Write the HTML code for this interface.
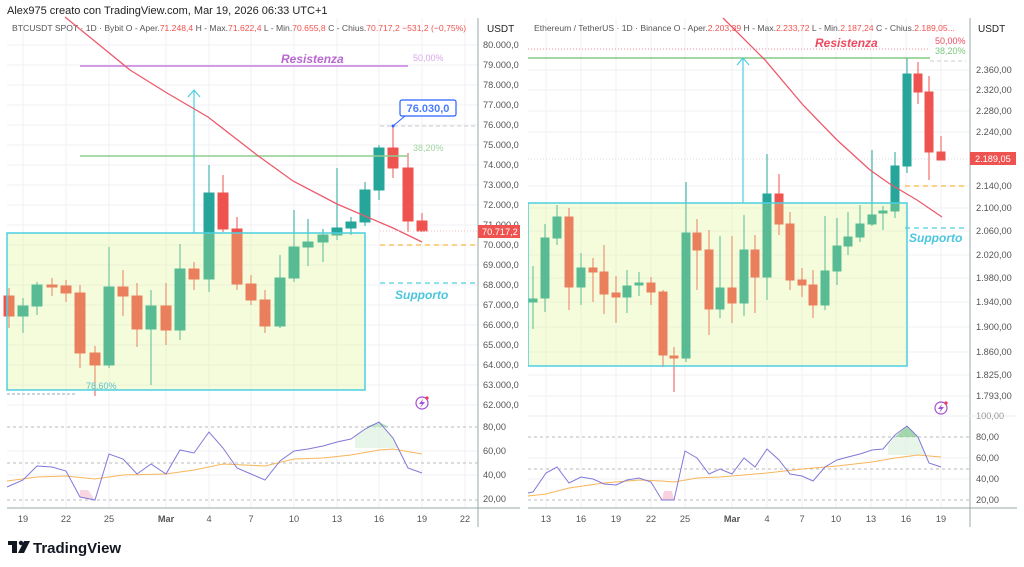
<!DOCTYPE html>
<html><head><meta charset="utf-8"><style>
html,body{margin:0;padding:0;background:#fff;}
svg{display:block;font-family:"Liberation Sans",sans-serif;}
</style></head><body>
<svg width="1024" height="567" viewBox="0 0 1024 567" xmlns="http://www.w3.org/2000/svg">
<rect width="1024" height="567" fill="#fff"/>
<text x="7" y="14" font-size="11" fill="#222">Alex975 creato con TradingView.com, Mar 19, 2026 06:33 UTC+1</text>

<!-- ================= LEFT CHART ================= -->
<g stroke="#f0f2f6" stroke-width="1">
<line x1="7" y1="45" x2="478" y2="45"/><line x1="7" y1="65" x2="478" y2="65"/><line x1="7" y1="85" x2="478" y2="85"/><line x1="7" y1="105" x2="478" y2="105"/><line x1="7" y1="125" x2="478" y2="125"/><line x1="7" y1="145" x2="478" y2="145"/><line x1="7" y1="165" x2="478" y2="165"/><line x1="7" y1="185" x2="478" y2="185"/><line x1="7" y1="205" x2="478" y2="205"/><line x1="7" y1="225" x2="478" y2="225"/><line x1="7" y1="245" x2="478" y2="245"/><line x1="7" y1="265" x2="478" y2="265"/><line x1="7" y1="285" x2="478" y2="285"/><line x1="7" y1="305" x2="478" y2="305"/><line x1="7" y1="325" x2="478" y2="325"/><line x1="7" y1="345" x2="478" y2="345"/><line x1="7" y1="365" x2="478" y2="365"/><line x1="7" y1="385" x2="478" y2="385"/><line x1="7" y1="405" x2="478" y2="405"/>
<line x1="7" y1="451" x2="478" y2="451"/><line x1="7" y1="475" x2="478" y2="475"/>
<line x1="23" y1="18" x2="23" y2="508"/><line x1="66" y1="18" x2="66" y2="508"/><line x1="109" y1="18" x2="109" y2="508"/><line x1="166" y1="18" x2="166" y2="508"/><line x1="209" y1="18" x2="209" y2="508"/><line x1="251" y1="18" x2="251" y2="508"/><line x1="294" y1="18" x2="294" y2="508"/><line x1="337" y1="18" x2="337" y2="508"/><line x1="379" y1="18" x2="379" y2="508"/><line x1="422" y1="18" x2="422" y2="508"/><line x1="465" y1="18" x2="465" y2="508"/>
</g>
<text x="12" y="31" font-size="8.6" fill="#555">BTCUSDT SPOT · 1D · Bybit  O - Aper.<tspan fill="#ef5350">71.248,4</tspan>  H - Max.<tspan fill="#ef5350">71.622,4</tspan>  L - Min.<tspan fill="#ef5350">70.655,8</tspan>  C - Chius.<tspan fill="#ef5350">70.717,2  −531,2 (−0,75%)</tspan></text>

<g stroke-width="1">
<g stroke="#ef5350" fill="#ef5350"><line x1="9" y1="288" x2="9" y2="328"/><rect x="4" y="296" width="10" height="20"/></g>
<g stroke="#26a69a" fill="#26a69a"><line x1="23" y1="298" x2="23" y2="333"/><rect x="18" y="306" width="10" height="10"/></g>
<g stroke="#26a69a" fill="#26a69a"><line x1="37" y1="282" x2="37" y2="315"/><rect x="32" y="285" width="10" height="21"/></g>
<g stroke="#ef5350" fill="#ef5350"><line x1="52" y1="278" x2="52" y2="296"/><rect x="47" y="285" width="10" height="2"/></g>
<g stroke="#ef5350" fill="#ef5350"><line x1="66" y1="280" x2="66" y2="302"/><rect x="61" y="286" width="10" height="7"/></g>
<g stroke="#ef5350" fill="#ef5350"><line x1="80" y1="285" x2="80" y2="368"/><rect x="75" y="293" width="10" height="60"/></g>
<g stroke="#ef5350" fill="#ef5350"><line x1="95" y1="346" x2="95" y2="396"/><rect x="90" y="353" width="10" height="12"/></g>
<g stroke="#26a69a" fill="#26a69a"><line x1="109" y1="247" x2="109" y2="368"/><rect x="104" y="287" width="10" height="78"/></g>
<g stroke="#ef5350" fill="#ef5350"><line x1="123" y1="270" x2="123" y2="316"/><rect x="118" y="287" width="10" height="9"/></g>
<g stroke="#ef5350" fill="#ef5350"><line x1="137" y1="283" x2="137" y2="347"/><rect x="132" y="296" width="10" height="33"/></g>
<g stroke="#26a69a" fill="#26a69a"><line x1="151" y1="290" x2="151" y2="385"/><rect x="146" y="306" width="10" height="23"/></g>
<g stroke="#ef5350" fill="#ef5350"><line x1="166" y1="283" x2="166" y2="345"/><rect x="161" y="306" width="10" height="24"/></g>
<g stroke="#26a69a" fill="#26a69a"><line x1="180" y1="244" x2="180" y2="340"/><rect x="175" y="269" width="10" height="61"/></g>
<g stroke="#ef5350" fill="#ef5350"><line x1="194" y1="262" x2="194" y2="290"/><rect x="189" y="269" width="10" height="10"/></g>
<g stroke="#26a69a" fill="#26a69a"><line x1="209" y1="165" x2="209" y2="292"/><rect x="204" y="193" width="10" height="86"/></g>
<g stroke="#ef5350" fill="#ef5350"><line x1="223" y1="175" x2="223" y2="232"/><rect x="218" y="193" width="10" height="36"/></g>
<g stroke="#ef5350" fill="#ef5350"><line x1="237" y1="217" x2="237" y2="290"/><rect x="232" y="229" width="10" height="55"/></g>
<g stroke="#ef5350" fill="#ef5350"><line x1="251" y1="275" x2="251" y2="305"/><rect x="246" y="284" width="10" height="16"/></g>
<g stroke="#ef5350" fill="#ef5350"><line x1="265" y1="290" x2="265" y2="333"/><rect x="260" y="300" width="10" height="26"/></g>
<g stroke="#26a69a" fill="#26a69a"><line x1="280" y1="255" x2="280" y2="328"/><rect x="275" y="278" width="10" height="48"/></g>
<g stroke="#26a69a" fill="#26a69a"><line x1="294" y1="210" x2="294" y2="282"/><rect x="289" y="247" width="10" height="31"/></g>
<g stroke="#26a69a" fill="#26a69a"><line x1="308" y1="219" x2="308" y2="266"/><rect x="303" y="242" width="10" height="5"/></g>
<g stroke="#26a69a" fill="#26a69a"><line x1="323" y1="229" x2="323" y2="262"/><rect x="318" y="235" width="10" height="7"/></g>
<g stroke="#26a69a" fill="#26a69a"><line x1="337" y1="168" x2="337" y2="240"/><rect x="332" y="228" width="10" height="7"/></g>
<g stroke="#26a69a" fill="#26a69a"><line x1="351" y1="217" x2="351" y2="235"/><rect x="346" y="222" width="10" height="6"/></g>
<g stroke="#26a69a" fill="#26a69a"><line x1="365" y1="182" x2="365" y2="226"/><rect x="360" y="190" width="10" height="32"/></g>
<g stroke="#26a69a" fill="#26a69a"><line x1="379" y1="145" x2="379" y2="200"/><rect x="374" y="148" width="10" height="42"/></g>
<g stroke="#ef5350" fill="#ef5350"><line x1="393" y1="126" x2="393" y2="178"/><rect x="388" y="148" width="10" height="20"/></g>
<g stroke="#ef5350" fill="#ef5350"><line x1="408" y1="153" x2="408" y2="232"/><rect x="403" y="168" width="10" height="53"/></g>
<g stroke="#ef5350" fill="#ef5350"><line x1="422" y1="213" x2="422" y2="232"/><rect x="417" y="221" width="10" height="10"/></g>
</g>
<rect x="7" y="233" width="358" height="157" fill="rgba(220,245,130,0.28)" stroke="#4ccfe0" stroke-width="1.5"/>
<line x1="7" y1="394" x2="75" y2="394" stroke="#9ab" stroke-dasharray="3,2" stroke-width="1"/>
<text x="86" y="389" font-size="9" fill="#5bc0c8">78,60%</text>
<line x1="80" y1="66" x2="408" y2="66" stroke="#c77ddb" stroke-width="1.5"/>
<text x="281" y="63" font-size="12" font-style="italic" font-weight="bold" fill="#b868d0">Resistenza</text>
<text x="413" y="61" font-size="9" fill="#d4a8e6">50,00%</text>
<line x1="80" y1="156" x2="408" y2="156" stroke="#8fce8f" stroke-width="1.5"/>
<text x="413" y="151" font-size="9" fill="#9ed59e">38,20%</text>
<line x1="194" y1="233" x2="194" y2="90" stroke="#4ccfe0" stroke-width="1.2"/>
<polyline points="188,97 194,90 200,97" fill="none" stroke="#4ccfe0" stroke-width="1.2"/>
<polyline points="65,17 97,43 130,70 167,93 208,117 257,155 293,181 337,204 393,228 422,242" fill="none" stroke="#ec5a6a" stroke-width="1.3"/>
<line x1="380" y1="126" x2="478" y2="126" stroke="#ccc" stroke-dasharray="4,3"/>
<line x1="393" y1="126" x2="405" y2="116" stroke="#2962ff" stroke-width="1"/>
<circle cx="393" cy="126" r="1.5" fill="#2962ff"/>
<rect x="400" y="100" width="56" height="16" rx="2" fill="#fff" stroke="#2962ff" stroke-width="1.2"/>
<text x="428" y="112" font-size="11" font-weight="bold" fill="#4a7cff" text-anchor="middle">76.030,0</text>
<line x1="380" y1="231" x2="478" y2="231" stroke="#f2c2c2" stroke-dasharray="1,2"/>
<line x1="380" y1="245" x2="478" y2="245" stroke="#f5b942" stroke-dasharray="5,4" stroke-width="1.2"/>
<line x1="380" y1="283" x2="478" y2="283" stroke="#4ccfe0" stroke-dasharray="5,4" stroke-width="1.2"/>
<text x="395" y="299" font-size="12" font-style="italic" font-weight="bold" fill="#4cc6dc">Supporto</text>
<circle cx="422" cy="403" r="6" fill="none" stroke="#a64fd0" stroke-width="1.2"/>
<path d="M423,399 L419,404 L422,404 L420,408 L425,402 L422,402 Z" fill="#a64fd0"/>
<circle cx="427" cy="398" r="1.6" fill="#ef3a5a"/>
<line x1="478" y1="18" x2="478" y2="527" stroke="#9aa" stroke-width="1"/>
<text x="487" y="32" font-size="10" fill="#222">USDT</text>
<g font-size="9.2" fill="#555">
<text x="483" y="48">80.000,0</text><text x="483" y="68">79.000,0</text><text x="483" y="88">78.000,0</text><text x="483" y="108">77.000,0</text><text x="483" y="128">76.000,0</text><text x="483" y="148">75.000,0</text><text x="483" y="168">74.000,0</text><text x="483" y="188">73.000,0</text><text x="483" y="208">72.000,0</text><text x="483" y="228">71.000,0</text><text x="483" y="268">69.000,0</text><text x="483" y="288">68.000,0</text><text x="483" y="308">67.000,0</text><text x="483" y="328">66.000,0</text><text x="483" y="348">65.000,0</text><text x="483" y="368">64.000,0</text><text x="483" y="388">63.000,0</text><text x="483" y="408">62.000,0</text><text x="483" y="248">70.000,0</text>
</g>
<rect x="478" y="225" width="42" height="13" fill="#ef5350"/>
<text x="482" y="235" font-size="9.2" fill="#fff">70.717,2</text>
<line x1="7" y1="427" x2="478" y2="427" stroke="#bbb" stroke-dasharray="3,3"/>
<line x1="7" y1="463" x2="478" y2="463" stroke="#bbb" stroke-dasharray="3,3"/>
<line x1="7" y1="500" x2="478" y2="500" stroke="#bbb" stroke-dasharray="3,3"/>
<polygon points="80,497 95,500 88,490 80,490" fill="#f7c4d4" opacity="0.7"/>
<polygon points="365,427 379,422 389,427" fill="#7cc78a" opacity="0.6"/>
<polygon points="355,435 365,429 379,422 393,438 398,448 355,448" fill="#d8f0dc" opacity="0.6"/>
<polyline points="7,481 37,477 66,476 95,479 123,475 166,474 194,470 223,464 265,466 294,459 323,458 351,455 379,450 393,449 422,454" fill="none" stroke="#f7b65a" stroke-width="1"/>
<polyline points="7,487 23,480 37,466 52,467 66,471 80,497 95,500 109,454 123,459 137,474 151,464 166,474 180,450 194,453 209,432 223,448 237,468 251,474 265,480 280,461 294,451 308,449 323,446 337,442 351,439 365,429 379,422 393,438 408,468 422,473" fill="none" stroke="#8179d8" stroke-width="1"/>
<g font-size="9.2" fill="#555"><text x="483" y="430">80,00</text><text x="483" y="454">60,00</text><text x="483" y="478">40,00</text><text x="483" y="502">20,00</text></g>
<line x1="7" y1="508" x2="520" y2="508" stroke="#9aa" stroke-width="1"/>
<g font-size="9.2" fill="#555" text-anchor="middle"><text x="23" y="522">19</text><text x="66" y="522">22</text><text x="109" y="522">25</text><text x="166" y="522" font-weight="bold">Mar</text><text x="209" y="522">4</text><text x="251" y="522">7</text><text x="294" y="522">10</text><text x="337" y="522">13</text><text x="379" y="522">16</text><text x="422" y="522">19</text><text x="465" y="522">22</text></g>

<!-- ================= RIGHT CHART ================= -->
<g stroke="#f0f2f6" stroke-width="1">
<line x1="528" y1="70" x2="970" y2="70"/><line x1="528" y1="90" x2="970" y2="90"/><line x1="528" y1="111" x2="970" y2="111"/><line x1="528" y1="132" x2="970" y2="132"/><line x1="528" y1="186" x2="970" y2="186"/><line x1="528" y1="208" x2="970" y2="208"/><line x1="528" y1="231" x2="970" y2="231"/><line x1="528" y1="255" x2="970" y2="255"/><line x1="528" y1="278" x2="970" y2="278"/><line x1="528" y1="302" x2="970" y2="302"/><line x1="528" y1="327" x2="970" y2="327"/><line x1="528" y1="352" x2="970" y2="352"/><line x1="528" y1="375" x2="970" y2="375"/><line x1="528" y1="396" x2="970" y2="396"/>
<line x1="528" y1="458" x2="970" y2="458"/><line x1="528" y1="479" x2="970" y2="479"/>
<line x1="546" y1="18" x2="546" y2="508"/><line x1="581" y1="18" x2="581" y2="508"/><line x1="616" y1="18" x2="616" y2="508"/><line x1="651" y1="18" x2="651" y2="508"/><line x1="685" y1="18" x2="685" y2="508"/><line x1="732" y1="18" x2="732" y2="508"/><line x1="767" y1="18" x2="767" y2="508"/><line x1="802" y1="18" x2="802" y2="508"/><line x1="836" y1="18" x2="836" y2="508"/><line x1="871" y1="18" x2="871" y2="508"/><line x1="906" y1="18" x2="906" y2="508"/><line x1="941" y1="18" x2="941" y2="508"/>
</g>
<text x="534" y="31" font-size="8.6" fill="#555">Ethereum / TetherUS · 1D · Binance  O - Aper.<tspan fill="#ef5350">2.203,39</tspan>  H - Max.<tspan fill="#ef5350">2.233,72</tspan>  L - Min.<tspan fill="#ef5350">2.187,24</tspan>  C - Chius.<tspan fill="#ef5350">2.189,05...</tspan></text>
<line x1="528" y1="159" x2="970" y2="159" stroke="#ddd" stroke-dasharray="1,2"/>
<g stroke-width="1">
<g stroke="#26a69a" fill="#26a69a"><line x1="533" y1="266" x2="533" y2="329"/><rect x="529" y="299" width="8" height="3"/></g>
<g stroke="#26a69a" fill="#26a69a"><line x1="545" y1="224" x2="545" y2="312"/><rect x="541" y="238" width="8" height="60"/></g>
<g stroke="#26a69a" fill="#26a69a"><line x1="557" y1="205" x2="557" y2="245"/><rect x="553" y="217" width="8" height="21"/></g>
<g stroke="#ef5350" fill="#ef5350"><line x1="569" y1="208" x2="569" y2="310"/><rect x="565" y="217" width="8" height="70"/></g>
<g stroke="#26a69a" fill="#26a69a"><line x1="581" y1="253" x2="581" y2="305"/><rect x="577" y="268" width="8" height="19"/></g>
<g stroke="#ef5350" fill="#ef5350"><line x1="593" y1="258" x2="593" y2="302"/><rect x="589" y="268" width="8" height="4"/></g>
<g stroke="#ef5350" fill="#ef5350"><line x1="604" y1="245" x2="604" y2="314"/><rect x="600" y="272" width="8" height="22"/></g>
<g stroke="#ef5350" fill="#ef5350"><line x1="616" y1="276" x2="616" y2="323"/><rect x="612" y="293" width="8" height="4"/></g>
<g stroke="#26a69a" fill="#26a69a"><line x1="627" y1="270" x2="627" y2="313"/><rect x="623" y="286" width="8" height="11"/></g>
<g stroke="#26a69a" fill="#26a69a"><line x1="639" y1="272" x2="639" y2="296"/><rect x="635" y="283" width="8" height="2"/></g>
<g stroke="#ef5350" fill="#ef5350"><line x1="651" y1="277" x2="651" y2="305"/><rect x="647" y="283" width="8" height="9"/></g>
<g stroke="#ef5350" fill="#ef5350"><line x1="663" y1="290" x2="663" y2="367"/><rect x="659" y="292" width="8" height="63"/></g>
<g stroke="#ef5350" fill="#ef5350"><line x1="674" y1="347" x2="674" y2="392"/><rect x="670" y="356" width="8" height="2"/></g>
<g stroke="#26a69a" fill="#26a69a"><line x1="686" y1="182" x2="686" y2="362"/><rect x="682" y="233" width="8" height="125"/></g>
<g stroke="#ef5350" fill="#ef5350"><line x1="697" y1="219" x2="697" y2="290"/><rect x="693" y="233" width="8" height="17"/></g>
<g stroke="#ef5350" fill="#ef5350"><line x1="709" y1="230" x2="709" y2="335"/><rect x="705" y="250" width="8" height="59"/></g>
<g stroke="#26a69a" fill="#26a69a"><line x1="720" y1="236" x2="720" y2="318"/><rect x="716" y="288" width="8" height="21"/></g>
<g stroke="#ef5350" fill="#ef5350"><line x1="732" y1="236" x2="732" y2="323"/><rect x="728" y="288" width="8" height="15"/></g>
<g stroke="#26a69a" fill="#26a69a"><line x1="744" y1="215" x2="744" y2="316"/><rect x="740" y="250" width="8" height="53"/></g>
<g stroke="#ef5350" fill="#ef5350"><line x1="755" y1="235" x2="755" y2="313"/><rect x="751" y="250" width="8" height="27"/></g>
<g stroke="#26a69a" fill="#26a69a"><line x1="767" y1="154" x2="767" y2="300"/><rect x="763" y="194" width="8" height="83"/></g>
<g stroke="#ef5350" fill="#ef5350"><line x1="779" y1="174" x2="779" y2="235"/><rect x="775" y="194" width="8" height="30"/></g>
<g stroke="#ef5350" fill="#ef5350"><line x1="790" y1="212" x2="790" y2="290"/><rect x="786" y="224" width="8" height="56"/></g>
<g stroke="#ef5350" fill="#ef5350"><line x1="802" y1="268" x2="802" y2="297"/><rect x="798" y="280" width="8" height="5"/></g>
<g stroke="#ef5350" fill="#ef5350"><line x1="813" y1="270" x2="813" y2="318"/><rect x="809" y="285" width="8" height="20"/></g>
<g stroke="#26a69a" fill="#26a69a"><line x1="825" y1="216" x2="825" y2="310"/><rect x="821" y="271" width="8" height="34"/></g>
<g stroke="#26a69a" fill="#26a69a"><line x1="837" y1="218" x2="837" y2="285"/><rect x="833" y="246" width="8" height="25"/></g>
<g stroke="#26a69a" fill="#26a69a"><line x1="848" y1="212" x2="848" y2="255"/><rect x="844" y="237" width="8" height="9"/></g>
<g stroke="#26a69a" fill="#26a69a"><line x1="860" y1="205" x2="860" y2="242"/><rect x="856" y="224" width="8" height="13"/></g>
<g stroke="#26a69a" fill="#26a69a"><line x1="872" y1="150" x2="872" y2="226"/><rect x="868" y="215" width="8" height="9"/></g>
<g stroke="#26a69a" fill="#26a69a"><line x1="883" y1="206" x2="883" y2="230"/><rect x="879" y="211" width="8" height="2"/></g>
<g stroke="#26a69a" fill="#26a69a"><line x1="895" y1="152" x2="895" y2="218"/><rect x="891" y="166" width="8" height="45"/></g>
<g stroke="#26a69a" fill="#26a69a"><line x1="907" y1="58" x2="907" y2="173"/><rect x="903" y="74" width="8" height="92"/></g>
<g stroke="#ef5350" fill="#ef5350"><line x1="918" y1="62" x2="918" y2="104"/><rect x="914" y="74" width="8" height="18"/></g>
<g stroke="#ef5350" fill="#ef5350"><line x1="929" y1="76" x2="929" y2="180"/><rect x="925" y="92" width="8" height="60"/></g>
<g stroke="#ef5350" fill="#ef5350"><line x1="941" y1="136" x2="941" y2="160"/><rect x="937" y="152" width="8" height="8"/></g>
</g>
<rect x="528" y="203" width="379" height="163" fill="rgba(220,245,130,0.28)" stroke="#4ccfe0" stroke-width="1.5"/>
<line x1="528" y1="49" x2="930" y2="49" stroke="#f08a9a" stroke-dasharray="1,2"/>
<line x1="528" y1="58" x2="930" y2="58" stroke="#6cc06c" stroke-width="1.3"/>
<line x1="930" y1="61" x2="966" y2="61" stroke="#ccc" stroke-dasharray="4,3"/>
<text x="815" y="47" font-size="12" font-style="italic" font-weight="bold" fill="#ec4a5e">Resistenza</text>
<text x="935" y="44" font-size="9" fill="#ec4a5e">50,00%</text>
<text x="935" y="54" font-size="9" fill="#7cc77c">38,20%</text>
<line x1="743" y1="203" x2="743" y2="58" stroke="#4ccfe0" stroke-width="1.2"/>
<polyline points="737,65 743,58 749,65" fill="none" stroke="#4ccfe0" stroke-width="1.2"/>
<polyline points="723,18 765,60 803,105 837,140 870,170 890,184 917,200 942,217" fill="none" stroke="#ec5a6a" stroke-width="1.3"/>
<line x1="905" y1="186" x2="966" y2="186" stroke="#f5b942" stroke-dasharray="5,4" stroke-width="1.2"/>
<line x1="905" y1="228" x2="966" y2="228" stroke="#4ccfe0" stroke-dasharray="5,4" stroke-width="1.2"/>
<text x="909" y="242" font-size="12" font-style="italic" font-weight="bold" fill="#4cc6dc">Supporto</text>
<circle cx="941" cy="408" r="6" fill="none" stroke="#a64fd0" stroke-width="1.2"/>
<path d="M942,404 L938,409 L941,409 L939,413 L944,407 L941,407 Z" fill="#a64fd0"/>
<circle cx="946" cy="403" r="1.6" fill="#ef3a5a"/>
<line x1="970" y1="18" x2="970" y2="527" stroke="#9aa" stroke-width="1"/>
<text x="978" y="32" font-size="10" fill="#222">USDT</text>
<g font-size="9.2" fill="#555">
<text x="976" y="73">2.360,00</text><text x="976" y="93">2.320,00</text><text x="976" y="114">2.280,00</text><text x="976" y="135">2.240,00</text><text x="976" y="189">2.140,00</text><text x="976" y="211">2.100,00</text><text x="976" y="234">2.060,00</text><text x="976" y="258">2.020,00</text><text x="976" y="281">1.980,00</text><text x="976" y="305">1.940,00</text><text x="976" y="330">1.900,00</text><text x="976" y="355">1.860,00</text><text x="976" y="378">1.825,00</text><text x="976" y="399">1.793,00</text>
</g>
<rect x="970" y="152" width="46" height="13" fill="#ef5350"/>
<text x="975" y="162" font-size="9.2" fill="#fff">2.189,05</text>
<line x1="528" y1="416" x2="1017" y2="416" stroke="#eee"/>
<line x1="528" y1="437" x2="970" y2="437" stroke="#bbb" stroke-dasharray="3,3"/>
<line x1="528" y1="469" x2="970" y2="469" stroke="#bbb" stroke-dasharray="3,3"/>
<line x1="528" y1="500" x2="970" y2="500" stroke="#bbb" stroke-dasharray="3,3"/>
<polygon points="662,500 674,500 672,491 664,491" fill="#f7c4d4" opacity="0.8"/>
<polygon points="895,437 907,426 918,437" fill="#7cc78a" opacity="0.7"/>
<polygon points="888,445 895,437 918,437 925,455 888,455" fill="#d8f0dc" opacity="0.6"/>
<polyline points="528,496 546,494 569,488 604,483 639,480 662,481 674,482 697,478 720,477 767,473 802,469 837,466 872,462 895,458 918,455 941,457" fill="none" stroke="#f7b65a" stroke-width="1"/>
<polyline points="528,493 533,492 546,473 557,467 569,483 581,477 593,479 604,484 616,485 627,480 639,478 651,482 662,500 674,500 685,451 697,458 709,474 720,469 732,474 744,458 755,467 767,449 779,460 790,474 802,476 813,481 825,467 837,460 848,457 860,454 872,450 883,449 895,435 907,426 918,437 929,463 941,467" fill="none" stroke="#8179d8" stroke-width="1"/>
<g font-size="9.2" fill="#555"><text x="976" y="419" fill="#999">100,00</text><text x="976" y="440">80,00</text><text x="976" y="461">60,00</text><text x="976" y="482">40,00</text><text x="976" y="503">20,00</text></g>
<line x1="528" y1="508" x2="1017" y2="508" stroke="#9aa" stroke-width="1"/>
<g font-size="9.2" fill="#555" text-anchor="middle"><text x="546" y="522">13</text><text x="581" y="522">16</text><text x="616" y="522">19</text><text x="651" y="522">22</text><text x="685" y="522">25</text><text x="732" y="522" font-weight="bold">Mar</text><text x="767" y="522">4</text><text x="802" y="522">7</text><text x="836" y="522">10</text><text x="871" y="522">13</text><text x="906" y="522">16</text><text x="941" y="522">19</text></g>
<rect x="520" y="18" width="8" height="510" fill="#fff"/>

<g fill="#131722">
<rect x="8" y="541" width="9" height="4"/><rect x="12" y="541" width="5" height="12"/>
<circle cx="21" cy="543" r="2.2"/>
<polygon points="24,541 30,541 24,553 18,553"/>
</g>
<text x="33" y="553" font-size="15" font-weight="bold" fill="#131722">TradingView</text>
</svg>
</body></html>
